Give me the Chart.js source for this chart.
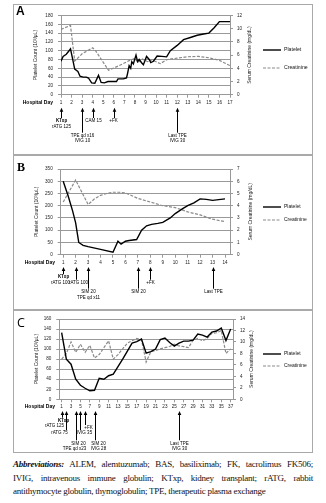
<!DOCTYPE html>
<html>
<head>
<meta charset="utf-8">
<script src="https://cdn.jsdelivr.net/npm/chart.js@4.4.0/dist/chart.umd.min.js"></script>
<style>
  body { margin: 0; background: #fff; width: 326px; height: 503px; position: relative; overflow: hidden; }
  .box { position: absolute; left: 13px; width: 300px; box-sizing: border-box; border: 1px solid #a9a9a9; }
  canvas { position: absolute; left: 13px; }
  #abbr { position: absolute; left: 13px; top: 458px; width: 300px; font-family: "Liberation Serif", serif; font-size: 9px; letter-spacing: -0.25px; line-height: 13.7px; color: #111; }
  #abbr .j { text-align: justify; text-align-last: justify; }
</style>
</head>
<body>
<div class="box" style="top:4px;height:151px"></div>
<div class="box" style="top:155px;height:155px"></div>
<div class="box" style="top:310px;height:143px"></div>
<canvas id="cA" width="300" height="151" style="top:4px"></canvas>
<canvas id="cB" width="300" height="155" style="top:155px"></canvas>
<canvas id="cC" width="300" height="143" style="top:310px"></canvas>
<div id="abbr">
  <div class="j"><b><i>Abbreviations:</i></b> ALEM, alemtuzumab; BAS, basiliximab; FK, tacrolimus FK506;</div>
  <div class="j">IVIG, intravenous immune globulin; KTxp, kidney transplant; rATG, rabbit</div>
  <div>antithymocyte globulin, thymoglobulin; TPE, therapeutic plasma exchange</div>
</div>
<script>
// ---- panel A ----
const aPltDay = [1, 1.2, 1.5, 1.9, 2.3, 2.6, 2.8, 3.1, 3.4, 3.6, 3.9, 4.2, 4.55, 4.8, 5.1, 5.45, 5.9, 6.25, 6.4, 6.9, 7.2, 7.3, 7.45, 7.6, 7.7, 7.85, 8.1, 8.25, 8.4, 8.65, 8.8, 9.1, 9.35, 9.5, 9.75, 10.1, 10.55, 11, 11.35, 12, 12.6, 13.25, 13.9, 14.5, 15, 15.5, 16, 17];
const aPlt = [76, 87, 92, 104, 58, 53, 42, 40, 40, 38, 27, 26, 44, 28, 27, 30, 30, 30, 36, 36, 38, 48, 66, 60, 75, 70, 90, 75, 80, 72, 68, 87, 80, 73, 76, 88, 87, 86, 100, 112, 125, 130, 135, 138, 140, 152, 166, 166];
const aCrDay = [1, 1.9, 2.3, 3, 4, 4.3, 5.5, 6.5, 7.5, 8, 8.3, 8.7, 9.2, 9.6, 10, 10.4, 11, 12, 13, 14, 15, 16, 17];
const aCr = [9.9, 10.5, 5.1, 6.2, 7.1, 6.6, 3.7, 4.4, 5.2, 5.5, 4.9, 5.4, 5.0, 5.3, 5.0, 4.7, 5.3, 5.55, 5.75, 5.8, 5.6, 5.2, 4.4];
const aTicks = [1, 2, 3, 4, 5, 6, 7, 8, 9, 10, 11, 12, 13, 14, 15, 16, 17];
const aEventDays = [1, 3, 4, 6, 12];
const aEventText = [['KTxp', 'rATG 125'], ['TPE qd x16', 'IVIG 10'], ['CAM 15'], ['+FK'], ['Last TPE', 'IVIG 30']];

// ---- panel B ----
const bPltDay = [1, 1.4, 1.75, 2, 2.25, 2.6, 3, 4, 5, 5.4, 5.65, 6, 6.3, 6.9, 7.3, 7.7, 8.1, 8.6, 9, 9.6, 10, 10.6, 11, 11.5, 12, 12.5, 13, 14];
const bPlt = [300, 240, 180, 130, 50, 38, 33, 22, 10, 55, 43, 55, 58, 62, 100, 118, 124, 128, 132, 150, 168, 188, 200, 212, 228, 226, 222, 228];
const bCrDay = [1, 2, 3, 3.5, 4, 4.5, 5, 5.5, 6, 7, 8, 9, 10, 11, 12, 13, 14];
const bCr = [4.3, 6.1, 4.1, 4.55, 4.85, 5.0, 5.1, 5.1, 5.05, 4.6, 4.3, 4.0, 3.85, 3.5, 3.25, 2.9, 2.7];
const bTicks = [1, 2, 3, 4, 5, 6, 7, 8, 9, 10, 11, 12, 13, 14];
const bEventDays = [1, 2, 3, 7, 8, 13];
const bEventText = [['KTxp', 'rATG 100'], ['rATG 100'], ['SIM 20', 'TPE qd x11'], ['SIM 20'], ['+FK'], ['Last TPE']];

// ---- panel C ----
const cDays = [1, 2, 3, 4, 5, 6, 7, 8, 9, 10, 11, 12, 13, 14, 15, 16, 17, 18, 19, 20, 21, 22, 23, 24, 25, 26, 27, 28, 29, 30, 31, 32, 33, 34, 35, 36, 37];
const cPlt = [133, 80, 70, 40, 28, 22, 17, 18, 42, 40, 47, 50, 65, 80, 96, 112, 115, 120, 92, 95, 100, 119, 122, 113, 106, 112, 116, 116, 118, 130, 128, 124, 134, 136, 142, 117, 140];
const cCr = [7.0, 8.0, 10.0, 8.2, 9.6, 8.2, 9.4, 7.2, 7.8, 9.0, 10.2, 7.0, 7.8, 8.8, 9.8, 10.2, 10.6, 10.4, 6.5, 8.3, 8.5, 8.8, 9.0, 9.2, 9.6, 9.3, 9.2, 9.0, 10.3, 10.6, 10.2, 10.6, 11.5, 11.6, 12.0, 8.0, 8.8];
const cTicks = [1, 3, 5, 7, 9, 11, 13, 15, 17, 19, 21, 23, 25, 27, 29, 31, 33, 35, 37];
const cEventDays = [1, 2, 4, 5, 6, 8, 26];
const cEventText = [['KTxp', 'rATG 125'], ['rATG 75'], ['SIM 20', 'TPE qd x23'], ['IVIG 35'], ['+FK'], ['SIM 20', 'IVIG 28'], ['Last TPE', 'IVIG 30']];

const FONT = '"Liberation Sans", Arial, sans-serif';
Chart.defaults.font.family = FONT;

const pts = (xs, ys) => xs.map((v, i) => ({ x: v, y: ys[i] }));

// letter, legend, right title, "Hospital Day" and the event arrows under the day axis
const notesPlugin = {
  id: 'notes',
  afterDraw(chart, args, o) {
    const { ctx, chartArea: ca, scales } = chart;
    ctx.save();
    ctx.fillStyle = '#000';
    ctx.strokeStyle = '#000';
    ctx.font = o.letterFont;
    ctx.textAlign = 'left';
    ctx.textBaseline = 'alphabetic';
    ctx.fillText(o.letter, o.letterPos[0], o.letterPos[1]);

    // legend, styled from the datasets
    ctx.font = o.legendFont + 'px ' + FONT;
    ctx.textBaseline = 'middle';
    chart.data.datasets.forEach((ds, i) => {
      const y = o.legendY[i];
      ctx.save();
      ctx.strokeStyle = ds.borderColor;
      ctx.lineWidth = ds.borderWidth;
      ctx.setLineDash(ds.borderDash || []);
      ctx.beginPath();
      ctx.moveTo(o.legendX, y);
      ctx.lineTo(o.legendX + 18, y);
      ctx.stroke();
      ctx.restore();
      ctx.fillStyle = '#111';
      ctx.fillText(ds.label, o.legendX + 21, y);
    });

    ctx.save();
    ctx.translate(o.rightTitleX, (ca.top + ca.bottom) / 2);
    ctx.rotate(-Math.PI / 2);
    ctx.font = '5px ' + FONT;
    ctx.fillStyle = '#222';
    ctx.textAlign = 'center';
    ctx.textBaseline = 'middle';
    ctx.fillText('Serum Creatinine (mg/dL)', 0, 0);
    ctx.restore();

    ctx.fillStyle = '#000';
    ctx.font = 'bold 5px ' + FONT;
    ctx.textAlign = 'right';
    ctx.textBaseline = 'middle';
    ctx.fillText('Hospital Day', o.hdX, ca.bottom + o.dayY);

    const tip = ca.bottom + o.tip;
    ctx.textAlign = 'center';
    ctx.lineWidth = 1;
    o.days.forEach((d, i) => {
      const px = Math.round(scales.x.getPixelForValue(d)) + 0.5;
      const end = tip + o.shaft[i];
      ctx.beginPath();
      ctx.moveTo(px, tip + 3);
      ctx.lineTo(px, end);
      ctx.stroke();
      ctx.beginPath();
      ctx.moveTo(px, tip);
      ctx.lineTo(px - 1.8, tip + 4);
      ctx.lineTo(px + 1.8, tip + 4);
      ctx.closePath();
      ctx.fill();
      o.text[i].forEach((t, j) => {
        ctx.font = (t === 'KTxp' ? 'bold ' : '') + '4.5px ' + FONT;
        ctx.fillText(t, px + (o.dx[i][j] || 0), end + 3 + j * o.gap);
      });
    });
    ctx.restore();
  }
};

function drawPanel(p) {
  const pad = { left: p.leftTitleX - 5, right: 0, top: p.area.top, bottom: 0 };
  const tickFont = { size: 4.6 };
  const chart = new Chart(document.getElementById(p.id), {
    type: 'line',
    data: {
      datasets: [
        { label: 'Platelet', data: pts(p.plt[0], p.plt[1]), yAxisID: 'y', borderColor: '#000', borderWidth: 1.4, pointRadius: 0 },
        { label: 'Creatinine', data: pts(p.cr[0], p.cr[1]), yAxisID: 'y1', borderColor: '#8a8a8a', borderWidth: 1.2, borderDash: [3, 1.5], pointRadius: 0 }
      ]
    },
    options: {
      responsive: false,
      animation: false,
      devicePixelRatio: 1,
      layout: { padding: pad },
      plugins: {
        tooltip: { enabled: false },
        legend: { display: false },
        notes: p.notes
      },
      scales: {
        x: {
          type: 'linear', min: p.x[0], max: p.x[1],
          afterBuildTicks: s => { s.ticks = p.ticks.map(v => ({ value: v })); },
          afterFit: s => { s.height = p.h - p.area.bottom; },
          ticks: { autoSkip: false, maxRotation: 0, padding: 2, color: '#222', font: tickFont },
          grid: { drawOnChartArea: false, color: '#999', tickLength: 3 },
          border: { color: '#999' }
        },
        y: {
          min: 0, max: p.y[0],
          afterFit: s => { s.width = p.area.left - pad.left; },
          ticks: { stepSize: p.y[1], padding: 5, color: '#222', font: tickFont },
          title: { display: true, text: 'Platelet Count (10³/μL)', color: '#222', font: { size: 5 }, padding: { top: 2, bottom: 0 } },
          grid: { color: '#999', tickLength: 3 },
          border: { color: '#999' }
        },
        y1: {
          position: 'right', min: 0, max: p.y1[0],
          afterFit: s => { s.width = 25; },
          ticks: { stepSize: p.y1[1], padding: 4, color: '#222', font: tickFont },
          grid: { drawOnChartArea: false, color: '#999', tickLength: 3 },
          border: { color: '#999' }
        }
      }
    },
    plugins: [notesPlugin]
  });
  // nudge the padding so the plot box lands where it is in the figure
  const a = chart.chartArea;
  chart.config.options.layout.padding = {
    left: pad.left + p.area.left - a.left,
    right: pad.right + a.right - p.area.right,
    top: pad.top + p.area.top - a.top,
    bottom: pad.bottom + a.bottom - p.area.bottom
  };
  chart.update();
}

drawPanel({
  id: 'cA', h: 151, area: { left: 48, right: 217, top: 11.5, bottom: 90.7 },
  x: [1, 17], ticks: aTicks, y: [180, 20], y1: [12, 2],
  plt: [aPltDay, aPlt], cr: [aCrDay, aCr],
  leftTitleX: 23,
  notes: {
    letter: 'A', letterFont: 'bold 12px ' + FONT, letterPos: [3, 10.5],
    legendX: 250, legendY: [46, 64], legendFont: 5.2,
    rightTitleX: 237, hdX: 40, dayY: 8.3, tip: 13, gap: 5.5,
    days: aEventDays, text: aEventText,
    shaft: [10.3, 25, 10.3, 10.3, 25], dx: [[0, 0], [0, 0], [0], [-1], [0, 0]]
  }
});

drawPanel({
  id: 'cB', h: 155, area: { left: 47.7, right: 217, top: 14, bottom: 99.7 },
  x: [0.8, 14.4], ticks: bTicks, y: [350, 50], y1: [7, 1],
  plt: [bPltDay, bPlt], cr: [bCrDay, bCr],
  leftTitleX: 24,
  notes: {
    letter: 'B', letterFont: 'bold 12px "Liberation Serif", serif', letterPos: [4, 15.5],
    legendX: 250, legendY: [52, 65], legendFont: 5,
    rightTitleX: 237.7, hdX: 42, dayY: 7.5, tip: 12.3, gap: 5.7,
    days: bEventDays, text: bEventText,
    shaft: [7, 12.7, 21.7, 21.7, 12.7, 21.7], dx: [[0, -3], [2], [0, 0], [0], [0], [0]]
  }
});

drawPanel({
  id: 'cC', h: 143, area: { left: 46.3, right: 220, top: 9, bottom: 89.3 },
  x: [0.5, 37.5], ticks: cTicks, y: [160, 20], y1: [14, 2],
  plt: [cDays, cPlt], cr: [cDays, cCr],
  leftTitleX: 24,
  notes: {
    letter: 'C', letterFont: '12.5px "Open Sans", ' + FONT, letterPos: [4, 17],
    legendX: 250, legendY: [44, 56], legendFont: 5,
    rightTitleX: 238.7, hdX: 42, dayY: 7.7, tip: 11.7, gap: 5,
    days: cEventDays, text: cEventText,
    shaft: [6.7, 19, 29.3, 19, 14, 29.3, 29.3], dx: [[1, -8], [-7], [2, -2], [4], [3], [3, 3], [0, 0]]
  }
});
</script>
</body>
</html>
